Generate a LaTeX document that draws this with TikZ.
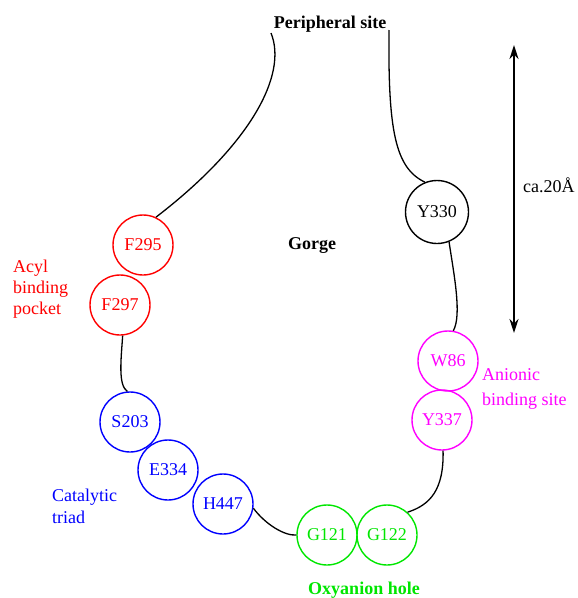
\documentclass[tikz,border=0pt]{standalone}
\usepackage{fontspec}
\setmainfont{Liberation Serif}
\usetikzlibrary{arrows.meta}
\definecolor{resred}{RGB}{255,0,0}
\definecolor{resblue}{RGB}{0,0,255}
\definecolor{resmag}{RGB}{255,0,255}
\definecolor{resgreen}{RGB}{0,230,0}
\begin{document}
\begin{tikzpicture}[x=1pt,y=-1pt,
  residue/.style={circle,draw,line width=1.4pt,minimum size=60pt,inner sep=0pt,
    font=\fontsize{18}{20}\selectfont},
  sitelabel/.style={align=left,anchor=north west,inner sep=0pt},
  title/.style={font=\fontsize{18}{20}\selectfont\bfseries,inner sep=0pt,anchor=base},
  link/.style={line width=1.3pt}]
\useasboundingbox (0,0) rectangle (578,598);

% gorge entrance and labels
\node[title] (peri) at (330,28) {Peripheral site};
\node[title] (gorge) at (312,249) {Gorge};
\coordinate (pl) at (271,33);
\coordinate (pr) at (389,30);

% residues lining the gorge
\node[residue,draw=resred,text=resred] (F295) at (143,245) {F295};
\node[residue,draw=resred,text=resred] (F297) at (120,305) {F297};
\node[residue,draw=resblue,text=resblue] (S203) at (130,422) {S203};
\node[residue,draw=resblue,text=resblue] (E334) at (168,470) {E334};
\node[residue,draw=resblue,text=resblue] (H447) at (223,504) {H447};
\node[residue,draw=resgreen,text=resgreen] (G121) at (327,535) {G121};
\node[residue,draw=resgreen,text=resgreen] (G122) at (387,535) {G122};
\node[residue,draw=resmag,text=resmag] (Y337) at (442,420) {Y337};
\node[residue,draw=resmag,text=resmag] (W86) at (448,361) {W86};
\node[residue,minimum size=63pt] (Y330) at (437,212) {Y330};

% site labels
\node[sitelabel,text=resred,font=\fontsize{18}{21}\selectfont] (acyl) at (13,259.5) {Acyl\\binding\\pocket};
\node[sitelabel,text=resblue,font=\fontsize{18}{22}\selectfont] (cat) at (52,488.5) {Catalytic\\triad};
\node[sitelabel,text=resmag,font=\fontsize{18}{24.5}\selectfont] (anio) at (482,368.5) {Anionic\\binding site};
\node[title,text=resgreen] (oxy) at (364,594) {Oxyanion hole};

% backbone connections
\draw[link] (pl) .. controls (288,75) and (250,145) .. (F295.65);
\draw[link] (pr) .. controls (388,130) and (395,168) .. (Y330.112);
\draw[link] (Y330.-68) .. controls (454,275) and (462,315) .. (W86.80);
\draw[link] (F297.-85) .. controls (121,360) and (118,385) .. (S203.95);
\draw[link] (H447.-8) .. controls (266,525) and (285,536) .. (G121.180);
\draw[link] (Y337.-88) .. controls (444,490) and (430,505) .. (G122.48);

% depth scale
\coordinate (atop) at (514,45);
\coordinate (abot) at (514,333);
\draw[line width=2pt,{Stealth[length=14pt,width=9pt]}-{Stealth[length=14pt,width=9pt]}] (atop) -- (abot);
\node[font=\fontsize{18}{20}\selectfont,anchor=base west,inner sep=0pt] (dist) at (523,192) {ca.20Å};
\end{tikzpicture}
\end{document}
